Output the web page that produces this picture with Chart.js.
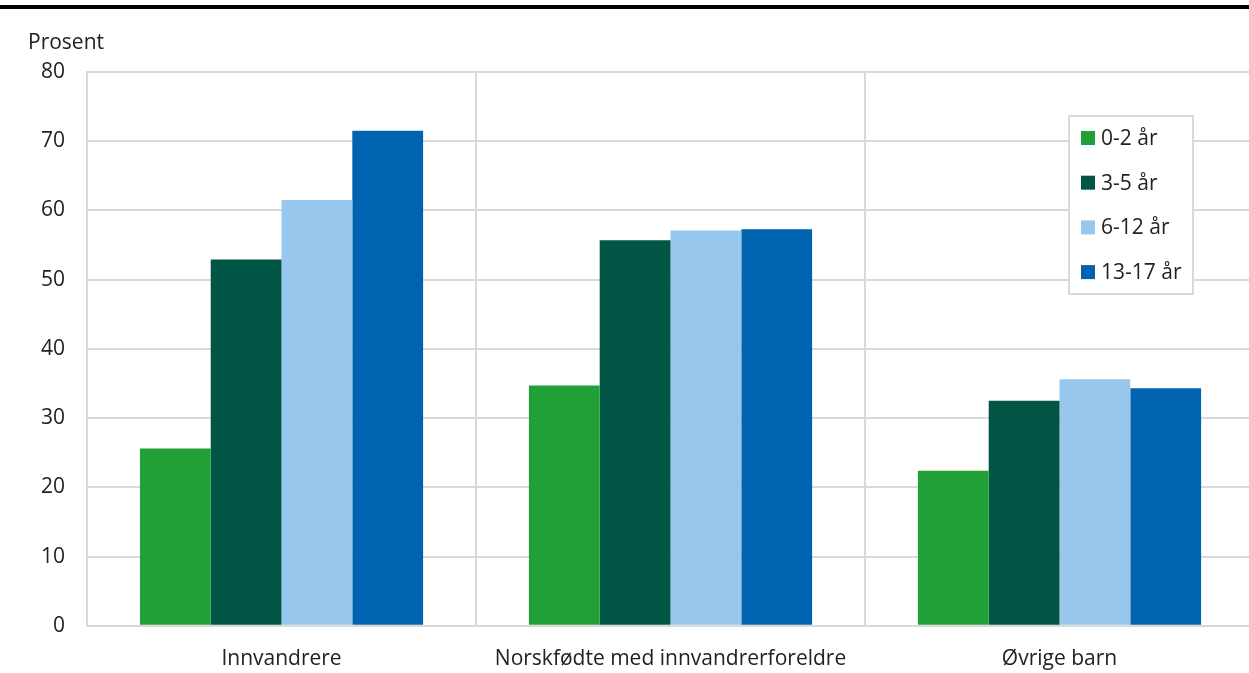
<!DOCTYPE html>
<html>
<head>
<meta charset="utf-8">
<script src="https://cdn.jsdelivr.net/npm/chart.js@4/dist/chart.umd.min.js"></script>
<style>
  html, body { margin: 0; padding: 0; background: #fff; overflow: hidden; }
  #topline { position: absolute; left: 0; top: 5px; width: 1249px; height: 4px; background: #000; }
  #wrap { position: absolute; left: 0; top: 0; width: 1254px; height: 701px; }
</style>
</head>
<body>
<div id="topline"></div>
<div id="wrap"><canvas id="chart"></canvas></div>
<script>
const categories = ["Innvandrere", "Norskfødte med innvandrerforeldre", "Øvrige barn"];
const seriesLabels = ["0-2 år", "3-5 år", "6-12 år", "13-17 år"];
const age0to2 = [25.6, 34.7, 22.4];
const age3to5 = [52.9, 55.7, 32.5];
const age6to12 = [61.5, 57.1, 35.6];
const age13to17 = [71.5, 57.3, 34.3];
const colors = ["#21a038", "#005545", "#97c7ec", "#0063b0"];
const FONT = "'Open Sans', sans-serif";

const values = [age0to2, age3to5, age6to12, age13to17];

// y axis title + legend box drawn on the canvas
const extras = {
  id: "extras",
  afterDraw(chart) {
    const ctx = chart.ctx;
    ctx.save();
    ctx.fillStyle = "#222";
    ctx.font = "21px " + FONT;
    ctx.textBaseline = "middle";
    ctx.textAlign = "left";
    ctx.fillText("Prosent", 28, 43);

    // legend
    const bx = 1069, by = 116, bw = 124, bh = 178;
    ctx.fillStyle = "#fff";
    ctx.fillRect(bx, by, bw, bh);
    ctx.strokeStyle = "#d9d9d9";
    ctx.lineWidth = 2;
    ctx.strokeRect(bx, by, bw, bh);
    chart.data.datasets.forEach((ds, i) => {
      const cy = 138 + i * 44.7;
      ctx.fillStyle = ds.backgroundColor;
      ctx.fillRect(1081, cy - 7, 14, 14);
      ctx.fillStyle = "#222";
      ctx.fillText(ds.label, 1101, cy + 1);
    });
    ctx.restore();
  }
};

new Chart(document.getElementById("chart"), {
  type: "bar",
  data: {
    labels: categories,
    datasets: seriesLabels.map((l, i) => ({
      label: l,
      data: values[i],
      backgroundColor: colors[i],
      borderWidth: 0
    }))
  },
  options: {
    responsive: true,
    maintainAspectRatio: false,
    animation: false,
    events: [],
    categoryPercentage: 0.728,
    barPercentage: 1.0,
    layout: { padding: { left: 19, top: 72, right: 0, bottom: 8 } },
    plugins: {
      legend: { display: false },
      tooltip: { enabled: false }
    },
    scales: {
      x: {
        offset: true,
        grid: { offset: true, color: "#d9d9d9", lineWidth: 2, drawTicks: false },
        border: { color: "#d9d9d9", width: 2 },
        ticks: { color: "#222", font: { family: FONT, size: 21 }, padding: 21 }
      },
      y: {
        min: 0,
        max: 80,
        ticks: { stepSize: 10, color: "#222", font: { family: FONT, size: 21 }, padding: 22 },
        grid: { color: "#d9d9d9", lineWidth: 2, drawTicks: false },
        border: { color: "#d9d9d9", width: 2 }
      }
    }
  },
  plugins: [extras]
});
</script>
</body>
</html>
